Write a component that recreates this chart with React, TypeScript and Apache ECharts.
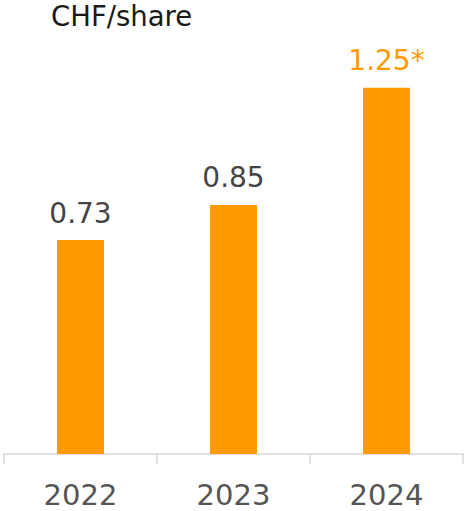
import React, { useEffect, useRef } from "react";
import * as echarts from "echarts";

const categories = ["2022", "2023", "2024"];
const values = [0.73, 0.85, 1.25];
const valueLabels = ["0.73", "0.85", "1.25*"];
const unitLabel = "CHF/share";

export default function App() {
  const ref = useRef<HTMLDivElement>(null);
  useEffect(() => {
    if (!ref.current) return;
    const chart = echarts.init(ref.current, undefined, { renderer: "svg" });
    const orange = "#FF9900";
    chart.setOption({
      animation: false,
      title: {
        text: unitLabel,
        left: 51,
        top: 2,
        padding: 0,
        textStyle: {
          fontFamily: "DejaVu Sans",
          fontSize: 27.5,
          fontWeight: "normal",
          color: "#1a1a1a",
        },
      },
      grid: { left: 4, right: 1, top: 14.5, bottom: 57, containLabel: false },
      xAxis: {
        type: "category",
        data: categories,
        axisLine: { lineStyle: { color: "#d9d9d9", width: 1.5 } },
        axisTick: { show: true, length: 10, lineStyle: { color: "#d9d9d9", width: 1.5 } },
        axisLabel: {
          margin: 26,
          fontFamily: "DejaVu Sans",
          fontSize: 29,
          color: "#555555",
        },
      },
      yAxis: {
        type: "value",
        min: 0,
        max: 1.5,
        show: false,
        splitLine: { show: false },
      },
      series: [
        {
          type: "bar",
          data: values.map((v, i) => ({
            value: v,
            label: {
              show: true,
              position: "top",
              distance: 13,
              formatter: valueLabels[i],
              fontFamily: "DejaVu Sans",
              fontSize: 28,
              color: i === 2 ? orange : "#444444",
            },
          })),
          barWidth: 47,
          itemStyle: { color: orange },
        },
      ],
    });
    return () => chart.dispose();
  }, []);
  return <div ref={ref} style={{ width: 464, height: 511, position: "absolute", left: 0, top: 0 }} />;
}
